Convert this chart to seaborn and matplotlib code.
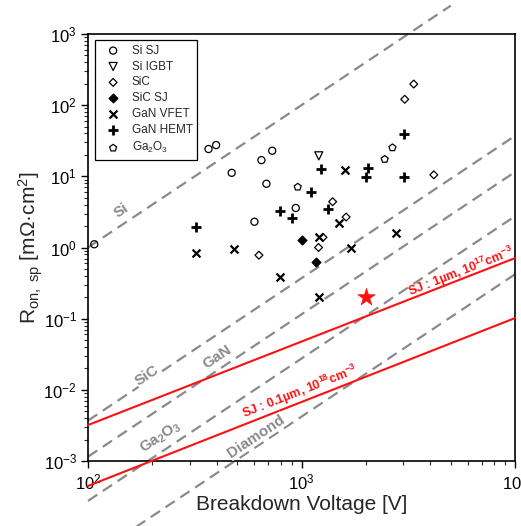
import matplotlib
matplotlib.use('Agg')
import matplotlib.pyplot as plt
import seaborn as sns

# device data (breakdown voltage V, Ron,sp mOhm*cm2)
si_sj_v = [107, 367, 398, 729, 649, 471, 685, 602, 940]
si_sj_r = [1.11, 24.2, 27.5, 22.9, 16.9, 11.2, 7.87, 2.30, 3.59]
si_igbt_v = [1205]
si_igbt_r = [19.4]
sic_v = [3356, 3045, 4166, 1399, 1618, 1261, 1202, 632]
sic_r = [198, 121, 10.5, 4.40, 2.68, 1.39, 1.00, 0.78]
sic_sj_v = [1000, 1172]
sic_sj_r = [1.29, 0.62]
gan_vfet_v = [320, 485, 797, 1202, 1600, 1496, 1202, 1698, 2785]
gan_vfet_r = [0.83, 0.94, 0.38, 0.20, 12.1, 2.19, 1.40, 0.99, 1.61]
gan_hemt_v = [320, 797, 902, 1102, 1237, 1332, 2041, 2008, 3012, 3012]
gan_hemt_r = [1.96, 3.29, 2.62, 6.06, 12.6, 3.45, 13.3, 9.88, 39.3, 9.94]
ga2o3_v = [960, 2453, 2666]
ga2o3_r = [7.08, 17.4, 25.3]
star_v = [2000]
star_r = [0.2]

# material limit lines (end points)
si_line_v = [100, 5000]
si_line_r = [1.0, 2500]
sic_line_v = [100, 1e4]
sic_line_r = [3.7e-3, 37]
gan_line_v = [100, 1e4]
gan_line_r = [1.15e-3, 11.5]
ga2o3_line_v = [100, 1e4]
ga2o3_line_r = [2.75e-4, 2.75]
dia_line_v = [100, 1e4]
dia_line_r = [4.2e-5, 0.42]

# superjunction lines (end points)
sj1_v = [100, 1e4]
sj1_r = [3.2e-3, 0.71]
sj2_v = [100, 1e4]
sj2_r = [4.46e-4, 0.102]

sns.set_style('ticks')
plt.rcParams['font.family'] = ['Liberation Sans', 'DejaVu Sans']
plt.rcParams['mathtext.fontset'] = 'custom'
plt.rcParams['mathtext.rm'] = 'Liberation Sans'
plt.rcParams['mathtext.it'] = 'Liberation Sans:italic'
plt.rcParams['mathtext.bf'] = 'Liberation Sans:bold'
plt.rcParams['mathtext.default'] = 'regular'

fig = plt.figure(figsize=(5.21, 5.26), dpi=100)
ax = fig.add_axes([88 / 521, 1 - 461 / 526, 427 / 521, 427 / 526])
ax.set_xscale('log')
ax.set_yscale('log')

# dashed material limits
gray = '#8a8a8a'
for lv, lr in [(si_line_v, si_line_r), (sic_line_v, sic_line_r), (gan_line_v, gan_line_r),
               (ga2o3_line_v, ga2o3_line_r), (dia_line_v, dia_line_r)]:
    sns.lineplot(x=lv, y=lr, color=gray, linewidth=1.6, linestyle=(0, (5, 3)),
                 clip_on=False, zorder=2, ax=ax)

# SJ lines
for lv, lr in [(sj1_v, sj1_r), (sj2_v, sj2_r)]:
    sns.lineplot(x=lv, y=lr, color='#ff1010', linewidth=1.5, clip_on=False, zorder=3, ax=ax)

# labels along the lines
lab_kw = dict(color=gray, fontsize=11, fontweight='bold', ha='center', va='center',
              rotation=33.6, rotation_mode='anchor', zorder=4,
              bbox=dict(facecolor='white', edgecolor='none', pad=0.5))
ax.text(143, 3.26, 'Si', **lab_kw)
ax.text(189, 0.0161, 'SiC', **lab_kw)
ax.text(404, 0.0289, 'GaN', **lab_kw)
ax.text(220, 0.00217, r'Ga$_\mathbf{2}$O$_\mathbf{3}$', **lab_kw)
ax.text(615, 0.00224, 'Diamond', **lab_kw)

red_kw = dict(color='#ff1010', fontsize=9, fontweight='bold', ha='center', va='center',
              rotation=21.4, rotation_mode='anchor', zorder=4)
ax.text(5570, 0.453, r'SJ : 1µm, 10$^\mathbf{17}$cm$^\mathbf{-3}$', **red_kw)
ax.text(980, 0.0093, r'SJ : 0.1µm, 10$^\mathbf{18}$cm$^\mathbf{-3}$', **red_kw)

# device points
hollow = dict(facecolor='none', edgecolor='black', linewidth=0.9, zorder=5, ax=ax)
sns.scatterplot(x=si_sj_v, y=si_sj_r, marker='o', s=26, label='Si SJ', **hollow)
sns.scatterplot(x=si_igbt_v, y=si_igbt_r, marker='v', s=34, label='Si IGBT', **hollow)
sns.scatterplot(x=sic_v, y=sic_r, marker='D', s=16, label='SiC', **hollow)
sns.scatterplot(x=sic_sj_v, y=sic_sj_r, marker='D', s=20, color='black', edgecolor='black',
                linewidth=0.9, zorder=5, label='SiC SJ', ax=ax)
sns.scatterplot(x=gan_vfet_v, y=gan_vfet_r, marker='x', s=32, color='black', linewidth=1.6,
                zorder=5, label='GaN VFET', ax=ax)
sns.scatterplot(x=gan_hemt_v, y=gan_hemt_r, marker='+', s=55, color='black', linewidth=2.0,
                zorder=5, label='GaN HEMT', ax=ax)
sns.scatterplot(x=ga2o3_v, y=ga2o3_r, marker='p', s=28, label='Ga$_2$O$_3$', **hollow)
sns.scatterplot(x=star_v, y=star_r, marker='*', s=170, color='#ff1010', edgecolor='#ff1010',
                linewidth=0.5, zorder=6, ax=ax)

ax.set_xlim(1e2, 1e4)
ax.set_ylim(1e-3, 1e3)

handles, labels = ax.get_legend_handles_labels()
leg = ax.legend(handles, labels, loc='upper left', bbox_to_anchor=(0.016, 0.986),
                borderaxespad=0, fontsize=8.5, frameon=True, fancybox=False,
                edgecolor='black', borderpad=0.4, handlelength=2.3, handletextpad=0.42,
                labelspacing=0.33)
leg.get_frame().set_linewidth(0.9)
leg.get_frame().set_alpha(1)

for sp in ax.spines.values():
    sp.set_linewidth(1.2)
    sp.set_color('black')
ax.tick_params(which='major', length=5, width=1, pad=3, labelsize=12, colors='black')
ax.tick_params(which='minor', length=3, width=0.8)

ax.set_xlabel('Breakdown Voltage [V]', fontsize=15, labelpad=2)
ax.set_ylabel(r'R$_{\rm on,\ sp}$ [mΩ·cm$^2$]', fontsize=15, labelpad=-1)

fig.savefig('out.png', dpi=100)
